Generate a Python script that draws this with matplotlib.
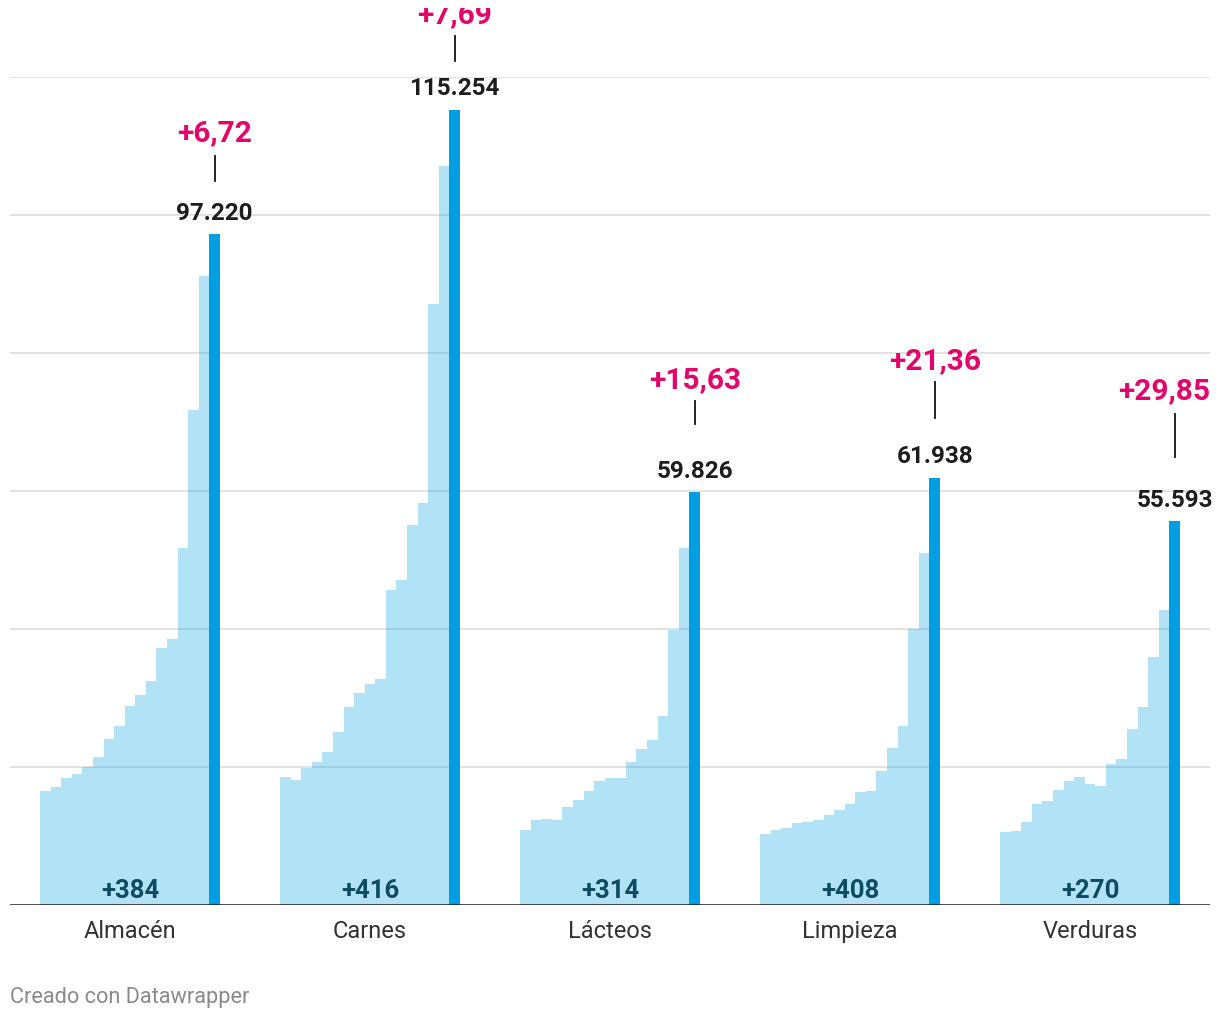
import matplotlib
matplotlib.use("Agg")
import matplotlib.pyplot as plt
from matplotlib.transforms import Bbox
import numpy as np

plt.rcParams['font.family'] = ['Roboto', 'DejaVu Sans']

# datos
categorias = ["Almacén", "Carnes", "Lácteos", "Limpieza", "Verduras"]

historico = [
    [16545, 17064, 18427, 19011, 19984, 21476, 24071, 25953, 28873, 30365,
     32441, 37307, 38605, 51711, 71695, 91160],
    [18601, 18140, 19831, 20753, 22214, 25134, 28747, 30669, 31975, 32744,
     45657, 47041, 55035, 58263, 87164, 107072],
    [10936, 12388, 12533, 12388, 14275, 15146, 16453, 17905, 18340, 18340,
     20663, 22550, 23857, 27341, 39826, 51730],
    [10356, 10936, 11227, 11953, 12098, 12388, 13114, 13840, 14566, 16308,
     16453, 19357, 22695, 25889, 40019, 51004],
    [10531, 10676, 11981, 14589, 15024, 16618, 17923, 18502, 17488, 17198,
     20386, 21111, 25459, 28647, 35894, 42705],
]
actual = [97220, 115254, 59826, 61938, 55593]
actual_txt = ["97.220", "115.254", "59.826", "61.938", "55.593"]
variacion = ["+6,72", "+7,69", "+15,63", "+21,36", "+29,85"]
aumentos = ["+384", "+416", "+314", "+408", "+270"]

# posiciones de las anotaciones (px sobre la barra)
pink_off = [102, 96, 113, 118, 131]
line_off = [(53, 78), (49, 74), (68, 91), (60, 96), (64, 107)]

AZUL = "#009fe3"
ROSA = "#e2066c"

fig = plt.figure(figsize=(12.2, 10.2), dpi=100)
ax = fig.add_axes([10 / 1220, 114 / 1020, 1200 / 1220, 828 / 1020])
ymax = 120000
px = ymax / 828.0

# area visible del grafico (las notas se cortan arriba)
recorte = Bbox([[0, 0], [1220, 1011]])

n = len(historico[0]) + 1
w = 0.75 / n
for i, vals in enumerate(historico):
    xs = i + (np.arange(len(vals)) - (n - 1) / 2) * w
    ax.bar(xs, vals, width=w, color=AZUL, alpha=0.3, linewidth=0, zorder=2)
    xf = i + ((n - 1) / 2) * w
    ax.bar(xf, actual[i], width=w, color=AZUL, linewidth=0, zorder=3)

    ax.text(xf, actual[i] + 22 * px, actual_txt[i], ha="center", va="center",
            fontsize=17.5, fontweight="bold", color="#1d1d1d", zorder=5)
    a, b = line_off[i]
    ax.plot([xf, xf], [actual[i] + a * px, actual[i] + b * px], color="#111111",
            lw=1.3, zorder=5, clip_on=False)
    if i == len(categorias) - 1:
        t = ax.text(4.5, actual[i] + pink_off[i] * px, variacion[i], ha="right", va="center",
                    fontsize=21.5, fontweight="bold", color=ROSA, zorder=5)
    else:
        t = ax.text(xf, actual[i] + pink_off[i] * px, variacion[i], ha="center", va="center",
                    fontsize=21.5, fontweight="bold", color=ROSA, zorder=5)
    t.set_clip_box(recorte)
    t.set_clip_on(True)
    ax.text(i, 15 * px, aumentos[i], ha="center", va="center",
            fontsize=18.5, fontweight="bold", color="#0e4c66", zorder=6)

for g in range(20000, ymax + 1, 20000):
    ax.axhline(g, color="#e1e1e1", lw=1.3, zorder=1)
ax.axhline(0, color="#1a1a1a", lw=1.8, zorder=7)

ax.set_xlim(-0.5, 4.5)
ax.set_ylim(0, ymax)
ax.set_yticks([])
ax.set_xticks(range(len(categorias)))
ax.set_xticklabels(categorias, fontsize=17, color="#333333")
ax.tick_params(axis="x", length=0, pad=10)
for s in ax.spines.values():
    s.set_visible(False)

fig.text(10 / 1220, 1 - 998 / 1020, "Creado con Datawrapper", ha="left", va="center",
         fontsize=15.7, color="#8a8a8a")

fig.savefig("out.png", dpi=100)
